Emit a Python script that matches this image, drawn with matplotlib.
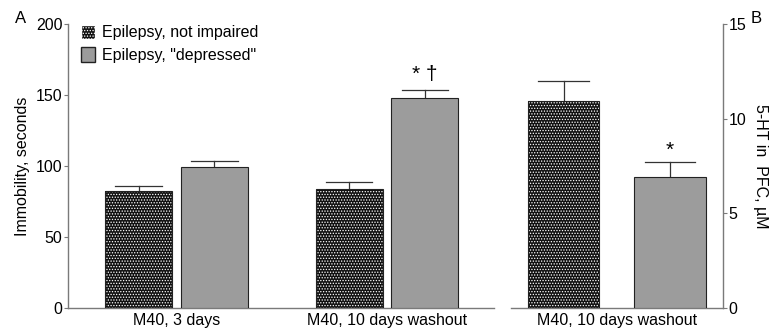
import matplotlib.pyplot as plt
from matplotlib.patches import Patch
import numpy as np

plt.rcParams['font.family'] = ['Liberation Sans', 'DejaVu Sans']
plt.rcParams['hatch.linewidth'] = 0.6

# Panel A: immobility (seconds)
groups_a = ["M40, 3 days", "M40, 10 days washout"]
not_impaired_a = [82, 84]
not_impaired_a_err = [3.5, 4.5]
depressed_a = [99, 147.5]
depressed_a_err = [4.5, 6]
marks_a = ["", "* \u2020"]

# Panel B: 5-HT in PFC (uM)
groups_b = ["M40, 10 days washout"]
not_impaired_b = [10.95]
not_impaired_b_err = [1.05]
depressed_b = [6.9]
depressed_b_err = [0.8]
marks_b = ["*"]

GRAY = "#9c9c9c"
SPINE = "#7a7a7a"
DOTS = "......"

fig = plt.figure(figsize=(7.73, 3.33), dpi=100)
axA = fig.add_axes([0.088, 0.076, 0.551, 0.852])
axB = fig.add_axes([0.661, 0.076, 0.274, 0.852])


def dotted_bars(ax, x, h, w):
    ax.bar(x, h, w, color="#111111", edgecolor="white", hatch=DOTS, linewidth=0, zorder=2)
    ax.bar(x, h, w, fill=False, edgecolor="#222222", linewidth=0.8, zorder=3)


def err_up(ax, x, h, e, cap):
    for xi, hi, ei in zip(x, h, e):
        ax.plot([xi, xi], [hi, hi + ei], color="#333333", lw=0.9, zorder=1)
        ax.plot([xi - cap, xi + cap], [hi + ei, hi + ei], color="#333333", lw=0.9, zorder=1)


# --- Panel A ---
xa = np.arange(len(groups_a))
wa = 0.318
off_a = 0.18
dotted_bars(axA, xa - off_a, not_impaired_a, wa)
axA.bar(xa + off_a, depressed_a, wa, color=GRAY, edgecolor="#222222", linewidth=0.8, zorder=3)
err_up(axA, xa - off_a, not_impaired_a, not_impaired_a_err, 0.11)
err_up(axA, xa + off_a, depressed_a, depressed_a_err, 0.11)
for xi, hi, ei, m in zip(xa + off_a, depressed_a, depressed_a_err, marks_a):
    if m:
        axA.text(xi, hi + ei + 4, m, ha="center", va="bottom", fontsize=15)

axA.set_xlim(-0.515, 1.508)
axA.set_ylim(0, 200)
axA.set_yticks([0, 50, 100, 150, 200])
axA.set_xticks(xa)
axA.set_xticklabels(groups_a)
axA.set_ylabel("Immobility, seconds", fontsize=11.5, labelpad=4)

# --- Panel B ---
xb = np.arange(len(groups_b))
wb = 0.34
off_b = 0.253
dotted_bars(axB, xb - off_b, not_impaired_b, wb)
axB.bar(xb + off_b, depressed_b, wb, color=GRAY, edgecolor="#222222", linewidth=0.8, zorder=3)
err_up(axB, xb - off_b, not_impaired_b, not_impaired_b_err, 0.12)
err_up(axB, xb + off_b, depressed_b, depressed_b_err, 0.12)
for xi, hi, ei, m in zip(xb + off_b, depressed_b, depressed_b_err, marks_b):
    axB.text(xi, hi + ei + 0.1, m, ha="center", va="bottom", fontsize=15)

axB.set_xlim(-0.504, 0.504)
axB.set_ylim(0, 15)
axB.set_yticks([0, 5, 10, 15])
axB.set_xticks(xb)
axB.set_xticklabels(groups_b)
axB.yaxis.tick_right()
axB.yaxis.set_label_position("right")
axB.set_ylabel("5-HT in  PFC, \u00b5M", fontsize=11.5, rotation=270, labelpad=16)

for ax in (axA, axB):
    ax.spines["top"].set_visible(False)
    for s in ax.spines.values():
        s.set_color(SPINE)
        s.set_linewidth(1.0)
    ax.tick_params(axis="y", length=3, color=SPINE, labelsize=11.5, pad=1)
    ax.tick_params(axis="x", length=0, labelsize=11.5, pad=4)
axA.spines["right"].set_visible(False)
axB.spines["left"].set_visible(False)

# legend
handles = [
    Patch(facecolor="#111111", edgecolor="white", hatch=DOTS),
    Patch(facecolor=GRAY, edgecolor="#222222"),
]
leg = axA.legend(handles, ["Epilepsy, not impaired", 'Epilepsy, "depressed"'],
                 loc="upper left", bbox_to_anchor=(0.015, 1.02), frameon=False,
                 fontsize=11.5, handlelength=0.9, handleheight=1.0,
                 handletextpad=0.4, labelspacing=0.45, borderaxespad=0)

fig.text(0.02, 0.93, "A", fontsize=12)
fig.text(0.985, 0.93, "B", fontsize=12, ha="right")

fig.savefig("out.png", dpi=100)
